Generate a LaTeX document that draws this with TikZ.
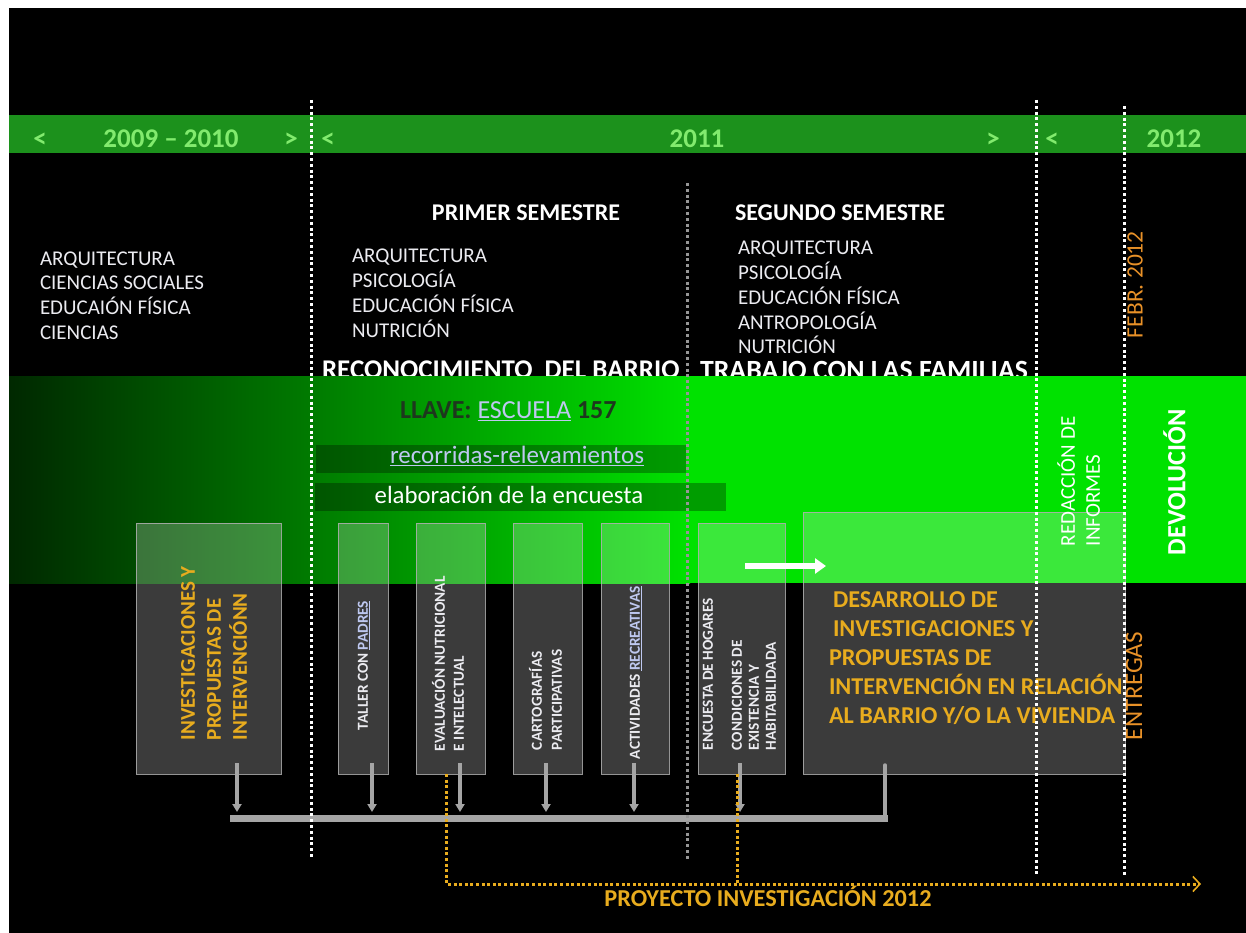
\documentclass[tikz,border=0pt]{standalone}
\usepackage{fontspec}
\setmainfont{Carlito}
\usetikzlibrary{arrows.meta}
\definecolor{bandg}{RGB}{28,145,28}
\definecolor{bandtxt}{RGB}{130,235,110}
\definecolor{brightg}{RGB}{0,226,0}
\definecolor{darkg}{RGB}{0,40,0}
\definecolor{gold}{RGB}{232,172,30}
\definecolor{orng}{RGB}{232,145,40}
\definecolor{boxline}{RGB}{175,175,175}
\definecolor{arrg}{RGB}{165,165,165}
\definecolor{ltxt}{RGB}{235,235,240}
\definecolor{ulblue}{RGB}{190,200,240}
\definecolor{llavec}{RGB}{30,55,30}
\definecolor{dotgray}{RGB}{150,150,150}
\newcommand{\fsz}[2]{\fontsize{#1pt}{#2pt}\selectfont}
\begin{document}
\begin{tikzpicture}[x=1pt,y=-1pt,
  every node/.style={inner sep=0pt,outer sep=0pt},
  yr/.style={text=bandtxt,font=\bfseries\fsz{27}{30},text height=16pt,text depth=0pt},
  lst/.style={text=ltxt,font=\fsz{21}{25},anchor=west,text height=13.5pt,text depth=0pt},
  hdr/.style={text=white,font=\bfseries\fsz{24}{28},text height=15.4pt,text depth=0pt},
  phase/.style={text=white,font=\bfseries\fsz{27}{30},anchor=west,text height=17.4pt,text depth=0pt},
  bt/.style={rotate=90,anchor=west,text=ltxt,font=\bfseries\fsz{15.3}{18},text height=9.8pt,text depth=0pt},
  gt/.style={rotate=90,anchor=west,text=gold,font=\bfseries\fsz{21}{25},text height=13.5pt,text depth=0pt},
  big/.style={anchor=west,text=gold,font=\bfseries\fsz{24.2}{28},text height=15.6pt,text depth=0pt},
  vt/.style={rotate=90,anchor=west,text depth=0pt},
  actbox/.style={draw=boxline,line width=1pt,fill=white,fill opacity=0.23,draw opacity=0.85,anchor=north west},
  darkbar/.style={fill=black,fill opacity=0.3,anchor=north west},
  wdot/.style={white,line width=3pt,dash pattern=on 3pt off 2.8pt},
  gdot/.style={dotgray,line width=3pt,dash pattern=on 3pt off 2.8pt},
  odot/.style={gold,line width=3pt,dash pattern=on 3pt off 2.6pt},
  downarr/.style={arrg,line width=3.5pt,-{Triangle[length=8pt,width=9pt]}},
]
\useasboundingbox (0,0) rectangle (1246,933);
\fill[white] (0,0) rectangle (1246,933);
\fill[black] (9,8) rectangle (1246,933);

% timeline band
\fill[bandg] (9,115) rectangle (1246,153);
\node[yr] (l1) at (40,140) {<};
\node[yr] (y1) at (171,140) {2009 – 2010};
\node[yr] (r1) at (291,140) {>};
\node[yr] (l2) at (328,140) {<};
\node[yr] (y2) at (697,140) {2011};
\node[yr] (r2) at (993,140) {>};
\node[yr] (l3) at (1052,140) {<};
\node[yr] (y3) at (1174,140) {2012};

% first column
\node[lst] (c1a) at (40,259) {ARQUITECTURA};
\node[lst] (c1b) at (40,283) {CIENCIAS SOCIALES};
\node[lst] (c1c) at (40,308) {EDUCAIÓN FÍSICA};
\node[lst] (c1d) at (40,333) {CIENCIAS};

% primer semestre
\node[hdr] (ps) at (526,213) {PRIMER SEMESTRE};
\node[lst] (c2a) at (352,256) {ARQUITECTURA};
\node[lst] (c2b) at (352,281) {PSICOLOGÍA};
\node[lst] (c2c) at (352,306) {EDUCACIÓN FÍSICA};
\node[lst] (c2d) at (352,331) {NUTRICIÓN};

% segundo semestre
\node[hdr,anchor=west] (ss) at (735,213) {SEGUNDO SEMESTRE};
\node[lst] (c3a) at (738,248) {ARQUITECTURA};
\node[lst] (c3b) at (738,273) {PSICOLOGÍA};
\node[lst] (c3c) at (738,298) {EDUCACIÓN FÍSICA};
\node[lst] (c3d) at (738,323) {ANTROPOLOGÍA};
\node[lst] (c3e) at (738,347) {NUTRICIÓN};

\node[phase] (rec) at (322,370) {RECONOCIMIENTO\ \ DEL BARRIO};
\node[phase,font=\bfseries\fsz{27.8}{30}] (tra) at (700,371) {TRABAJO CON LAS FAMILIAS};

% bright band
\shade[left color=darkg,right color=brightg] (9,376) rectangle (690,583);
\fill[brightg] (689.5,376) rectangle (1246,583);

% key line and bars
\node[anchor=west,font=\fsz{26}{30},text height=16.7pt,text depth=0pt] (llave) at (400,410)
  {\textcolor{llavec}{\bfseries LLAVE:} \textcolor{ulblue}{\underline{ESCUELA}} \textcolor{llavec}{\bfseries 157}};
\node[darkbar,minimum width=370pt,minimum height=28pt] (bar1) at (316,445) {};
\node[text=ulblue,font=\fsz{25}{28}] (bar1t) at (517,456) {\underline{recorridas-relevamientos}};
\node[darkbar,minimum width=411pt,minimum height=28pt] (bar2) at (315,483) {};
\node[text=white,font=\fsz{24.8}{28}] (bar2t) at (509,495) {elaboración de la encuesta};

% activity boxes
\node[actbox,minimum width=145pt,minimum height=251pt] (b1) at (136,523) {};
\node[actbox,minimum width=50pt,minimum height=251pt] (b2) at (338,523) {};
\node[actbox,minimum width=69pt,minimum height=251pt] (b3) at (416,523) {};
\node[actbox,minimum width=69pt,minimum height=251pt] (b4) at (513,523) {};
\node[actbox,minimum width=68pt,minimum height=251pt] (b5) at (601,523) {};
\node[actbox,minimum width=87pt,minimum height=251pt] (b6) at (698,523) {};
\node[actbox,minimum width=322pt,minimum height=262pt] (b7) at (803,512) {};

% box texts
\node[gt] (t1a) at (188,740) {INVESTIGACIONES Y};
\node[gt] (t1b) at (214,740) {PROPUESTAS DE};
\node[gt] (t1c) at (240,740) {INTERVENCIÓNN};
\node[bt] (t2) at (363,730) {TALLER CON \textcolor{ulblue}{\underline{PADRES}}};
\node[bt] (t3a) at (440,751) {EVALUACIÓN NUTRICIONAL};
\node[bt] (t3b) at (459,751) {E INTELECTUAL};
\node[bt] (t4a) at (537,750) {CARTOGRAFÍAS};
\node[bt] (t4b) at (557,750) {PARTICIPATIVAS};
\node[bt] (t5) at (635,759) {ACTIVIDADES \textcolor{ulblue}{\underline{RECREATIVAS}}};
\node[bt] (t6a) at (708,750) {ENCUESTA DE HOGARES};
\node[bt] (t6b) at (737,750) {CONDICIONES DE};
\node[bt] (t6c) at (754,750) {EXISTENCIA Y};
\node[bt] (t6d) at (771,750) {HABITABILIDADA};
\node[big] (t7a) at (833,600) {DESARROLLO DE};
\node[big] (t7b) at (833,629) {INVESTIGACIONES Y};
\node[big] (t7c) at (829,658) {PROPUESTAS DE};
\node[big] (t7d) at (829,687) {INTERVENCIÓN EN RELACIÓN};
\node[big] (t7e) at (829,716) {AL BARRIO Y/O LA VIVIENDA};

% white arrow
\coordinate (wa1) at (745,566);
\coordinate (wa2) at (826,566);
\draw[white,line width=6pt,-{Triangle[length=11pt,width=15pt]}] (wa1) -- (wa2);

% gray arrows and bar
\node[fill=arrg,anchor=north west,minimum width=658pt,minimum height=7pt] (bar) at (230,815) {};
\foreach \nm/\dx in {b1/101,b2/34,b3/44,b4/33,b5/33,b6/42}
  \draw[downarr] ([xshift=\dx pt,yshift=11pt]\nm.south west) -- ++(0,49);
\draw[arrg,line width=3.5pt,line cap=round] ([xshift=82pt,yshift=9pt]b7.south west) -- ++(0,50);

% dividers
\draw[wdot] (311,100) -- (311,858);
\draw[gdot] (687,183) -- (687,860);
\draw[wdot] (1036,100) -- (1036,877);
\draw[wdot] (1124,106) -- (1124,877);

% orange project line
\coordinate (pe) at (1201,884);
\draw[odot,-{Straight Barb[length=7pt,width=15pt,line width=1.6pt]}] ([xshift=30pt]b3.south west) |- (pe);
\draw[odot] ([xshift=39pt]b6.south west) -- ++(0,110);
\node[text=gold,font=\bfseries\fsz{24.3}{27},text height=15.6pt,text depth=0pt] (proy) at (768,899) {PROYECTO INVESTIGACIÓN 2012};

% right side labels
\node[vt,text=orng,font=\fsz{23.5}{27},text height=15.1pt] (febr) at (1135,338) {FEBR. 2012};
\node[vt,text=white,font=\fsz{21}{24},text height=13.5pt] (red1) at (1068,546) {REDACCIÓN DE};
\node[vt,text=white,font=\fsz{21}{24},text height=13.5pt] (red2) at (1093,546) {INFORMES};
\node[vt,text=white,font=\bfseries\fsz{26.3}{30},text height=16.9pt] (dev) at (1177,555) {DEVOLUCIÓN};
\node[vt,text=orng,font=\fsz{25}{29},text height=16.1pt] (ent) at (1134,740) {ENTREGAS};
\end{tikzpicture}
\end{document}
